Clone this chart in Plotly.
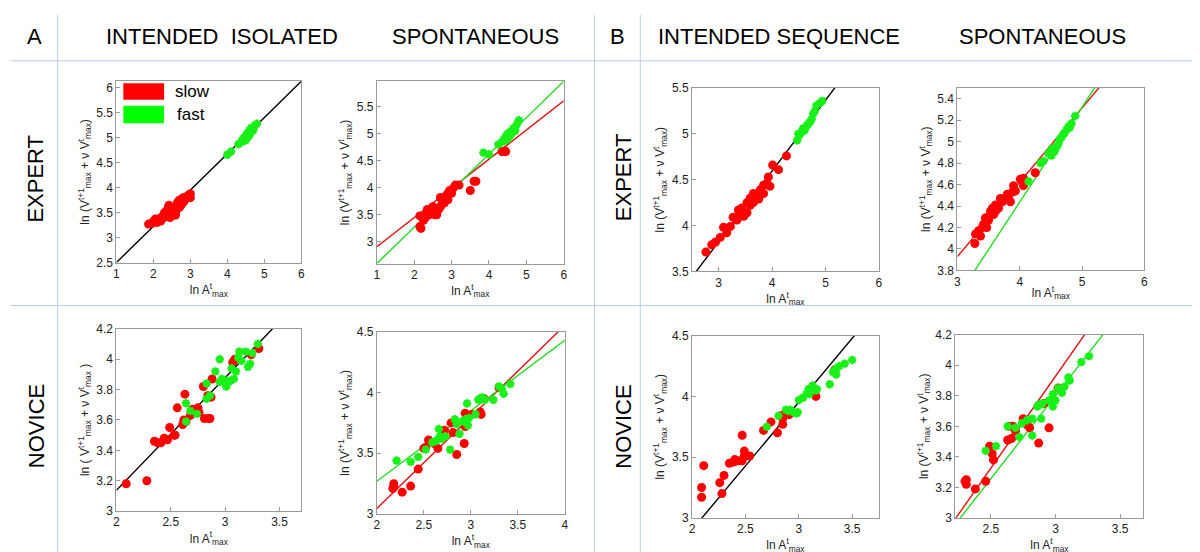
import plotly.graph_objects as go

# ---------------- DATA ----------------
# Panel A / EXPERT / INTENDED ISOLATED
a_ei_slow_x = [1.87, 1.95, 2.0, 2.05, 2.1, 2.15, 2.2, 2.2, 2.25, 2.3, 2.3, 2.35, 2.38, 2.4, 2.42, 2.45, 2.5, 2.5, 2.55, 2.55,
               2.6, 2.6, 2.65, 2.65, 2.7, 2.7, 2.75, 2.8, 2.8, 2.85, 2.9, 2.95, 3.0, 3.0, 2.45, 2.35, 2.6]
a_ei_slow_y = [3.27, 3.28, 3.32, 3.37, 3.3, 3.35, 3.4, 3.33, 3.38, 3.45, 3.5, 3.42, 3.55, 3.6, 3.65, 3.48, 3.5, 3.6, 3.55, 3.45,
               3.62, 3.5, 3.7, 3.58, 3.6, 3.75, 3.65, 3.7, 3.8, 3.75, 3.82, 3.85, 3.88, 3.8, 3.4, 3.45, 3.45]
a_ei_fast_x = [4.0, 4.1, 4.3, 4.4, 4.45, 4.5, 4.55, 4.6, 4.6, 4.65, 4.7, 4.75, 4.8, 4.5, 4.55, 4.4, 4.65, 4.7]
a_ei_fast_y = [4.66, 4.72, 4.87, 4.95, 5.0, 5.05, 5.1, 5.15, 5.05, 5.2, 5.2, 5.25, 5.28, 4.95, 5.0, 4.92, 5.12, 5.15]

# Panel A / EXPERT / SPONTANEOUS
a_es_slow_x = [2.15, 2.15, 2.18, 2.25, 2.3, 2.35, 2.35, 2.4, 2.45, 2.5, 2.5, 2.55, 2.6, 2.65, 2.7, 2.7, 2.75, 2.8, 2.85, 2.9,
               2.95, 3.0, 3.05, 3.1, 3.2, 2.8, 2.9, 2.6, 3.5, 3.6, 3.65, 4.35, 4.42, 4.45]
a_es_slow_y = [3.48, 3.28, 3.25, 3.4, 3.45, 3.55, 3.6, 3.5, 3.62, 3.55, 3.65, 3.5, 3.5, 3.6, 3.65, 3.82, 3.75, 3.8, 3.85, 3.9,
               3.95, 3.9, 4.0, 4.05, 4.05, 3.72, 3.78, 3.55, 3.95, 4.12, 4.12, 4.67, 4.68, 4.67]
a_es_fast_x = [3.85, 4.0, 4.25, 4.35, 4.4, 4.45, 4.5, 4.55, 4.6, 4.65, 4.7, 4.75, 4.8, 4.45, 4.55, 4.6, 4.5, 4.7]
a_es_fast_y = [4.65, 4.62, 4.8, 4.85, 4.9, 4.95, 5.0, 5.02, 5.05, 5.1, 5.12, 5.18, 5.25, 4.88, 4.95, 5.0, 4.92, 5.05]

# Panel B / EXPERT / INTENDED SEQUENCE
b_ei_slow_x = [2.76, 2.87, 2.94, 3.03, 3.09, 3.15, 3.27, 3.37, 3.34, 3.43, 3.47, 3.53, 3.59, 3.65, 3.72, 3.78, 3.84, 3.9,
               3.93, 4.01, 4.12, 4.27, 3.53, 3.65, 3.75, 3.96, 3.4, 3.84, 3.22, 3.59]
b_ei_slow_y = [3.71, 3.79, 3.82, 3.87, 3.98, 3.92, 4.09, 4.17, 4.06, 4.19, 4.1, 4.25, 4.3, 4.35, 4.32, 4.39, 4.44, 4.46,
               4.53, 4.66, 4.61, 4.76, 4.14, 4.25, 4.29, 4.43, 4.1, 4.35, 3.99, 4.22]
b_ei_fast_x = [4.47, 4.49, 4.55, 4.58, 4.65, 4.71, 4.74, 4.77, 4.8, 4.83, 4.9, 4.94, 4.61, 4.68, 4.52]
b_ei_fast_y = [4.93, 5.0, 5.02, 5.06, 5.09, 5.13, 5.16, 5.22, 5.25, 5.31, 5.34, 5.36, 5.04, 5.11, 4.99]

# Panel B / EXPERT / SPONTANEOUS
b_es_slow_x = [3.28, 3.29, 3.34, 3.37, 3.42, 3.45, 3.5, 3.53, 3.56, 3.58, 3.61, 3.66, 3.72, 3.77, 3.8, 3.85, 3.88, 3.9,
               4.01, 4.06, 4.06, 4.25, 3.61, 3.69, 3.47, 3.4, 3.82, 3.93]
b_es_slow_y = [4.05, 4.14, 4.17, 4.12, 4.23, 4.29, 4.27, 4.35, 4.38, 4.32, 4.41, 4.38, 4.44, 4.47, 4.51, 4.44, 4.53, 4.59,
               4.65, 4.66, 4.59, 4.71, 4.35, 4.47, 4.2, 4.2, 4.48, 4.54]
b_es_fast_x = [4.14, 4.33, 4.38, 4.46, 4.51, 4.56, 4.62, 4.64, 4.7, 4.75, 4.78, 4.83, 4.89, 4.56, 4.51, 4.67, 4.8, 4.72, 4.59]
b_es_fast_y = [4.63, 4.8, 4.82, 4.89, 4.93, 4.95, 4.98, 5.02, 5.07, 5.11, 5.14, 5.17, 5.24, 4.91, 4.87, 5.04, 5.13, 5.08, 4.95]

# Panel A / NOVICE / INTENDED ISOLATED
a_ni_slow_x = [2.09, 2.28, 2.35, 2.38, 2.41, 2.44, 2.47, 2.49, 2.53, 2.54, 2.56, 2.61, 2.62, 2.63, 2.64, 2.68, 2.7, 2.75,
               2.76, 2.8, 2.81, 2.84, 2.86, 2.88, 2.85, 3.07, 3.09, 3.24, 3.31, 2.87]
a_ni_slow_y = [3.18, 3.2, 3.46, 3.45, 3.45, 3.48, 3.47, 3.55, 3.5, 3.5, 3.68, 3.57, 3.6, 3.77, 3.59, 3.63, 3.67, 3.68,
               3.65, 3.82, 3.61, 3.76, 3.61, 3.87, 3.61, 3.98, 4.0, 4.03, 4.07, 3.75]
a_ni_fast_x = [2.64, 2.64, 2.68, 2.74, 2.83, 2.83, 2.86, 2.91, 2.95, 2.95, 2.97, 3.0, 3.01, 3.03, 3.05, 3.06, 3.08, 3.1,
               3.12, 3.13, 3.15, 3.19, 3.21, 3.23, 3.25, 3.3]
a_ni_fast_y = [3.71, 3.59, 3.66, 3.64, 3.84, 3.74, 3.76, 3.92, 4.0, 3.85, 3.87, 3.86, 3.82, 3.85, 3.86, 3.94, 3.87, 3.92,
               4.01, 4.05, 3.99, 4.05, 3.95, 3.97, 4.04, 4.1]

# Panel A / NOVICE / SPONTANEOUS
a_ns_slow_x = [2.18, 2.18, 2.17, 2.27, 2.36, 2.44, 2.5, 2.52, 2.55, 2.61, 2.65, 2.72, 2.79, 2.81, 2.85, 2.93, 2.94, 2.94,
               3.01, 3.1, 3.11, 3.14, 3.3]
a_ns_slow_y = [3.22, 3.25, 3.21, 3.18, 3.23, 3.37, 3.54, 3.55, 3.61, 3.58, 3.54, 3.69, 3.75, 3.67, 3.49, 3.58, 3.83, 3.72,
               3.82, 3.84, 3.82, 3.95, 4.04]
a_ns_fast_x = [2.21, 2.36, 2.44, 2.52, 2.59, 2.63, 2.66, 2.67, 2.69, 2.73, 2.78, 2.83, 2.85, 2.88, 2.92, 2.94, 2.96, 2.97,
               3.05, 3.08, 3.12, 3.15, 3.24, 3.3, 3.33, 3.35, 3.42, 3.1, 2.98]
a_ns_fast_y = [3.44, 3.43, 3.47, 3.53, 3.59, 3.6, 3.7, 3.64, 3.62, 3.64, 3.53, 3.78, 3.74, 3.66, 3.76, 3.78, 3.91, 3.73,
               3.82, 3.94, 3.96, 3.94, 3.94, 4.05, 4.03, 3.99, 4.07, 3.95, 3.79]

# Panel B / NOVICE / INTENDED SEQUENCE
b_ni_slow_x = [2.09, 2.09, 2.11, 2.26, 2.3, 2.28, 2.35, 2.39, 2.4, 2.43, 2.47, 2.47, 2.49, 2.49, 2.54, 2.67, 2.74, 2.8,
               2.85, 2.85, 2.88, 2.91, 3.16, 3.34, 2.83]
b_ni_slow_y = [3.25, 3.17, 3.43, 3.29, 3.35, 3.2, 3.45, 3.46, 3.48, 3.47, 3.47, 3.68, 3.55, 3.51, 3.51, 3.72, 3.79, 3.7,
               3.77, 3.82, 3.87, 3.85, 4.0, 4.22, 3.84]
b_ni_fast_x = [2.7, 2.81, 2.9, 2.92, 2.95, 2.98, 3.0, 3.04, 3.07, 3.09, 3.13, 3.16, 3.17, 3.29, 3.32, 3.35, 3.38, 3.43,
               3.5, 3.35, 3.34, 2.88, 2.99, 3.1]
b_ni_fast_y = [3.75, 3.84, 3.88, 3.89, 3.87, 3.86, 3.97, 3.99, 4.02, 4.06, 4.09, 4.05, 4.06, 4.1, 4.2, 4.23, 4.25, 4.27,
               4.3, 4.18, 4.21, 3.89, 3.87, 4.02]

# Panel B / NOVICE / SPONTANEOUS
b_ns_slow_x = [2.3, 2.31, 2.31, 2.38, 2.46, 2.49, 2.51, 2.52, 2.63, 2.66, 2.67, 2.69, 2.75, 2.78, 2.8, 2.87, 2.95, 3.02,
               2.91, 2.64]
b_ns_slow_y = [3.24, 3.22, 3.25, 3.19, 3.24, 3.47, 3.42, 3.38, 3.51, 3.52, 3.6, 3.57, 3.65, 3.61, 3.59, 3.49, 3.59, 3.85,
               3.75, 3.6]
b_ns_fast_x = [2.46, 2.54, 2.63, 2.69, 2.72, 2.74, 2.78, 2.82, 2.82, 2.86, 2.88, 2.89, 2.9, 2.95, 2.98, 2.98, 3.02, 3.05,
               3.07, 3.1, 3.11, 3.2, 3.26, 3.0, 2.87]
b_ns_fast_y = [3.44, 3.47, 3.6, 3.59, 3.53, 3.62, 3.64, 3.54, 3.65, 3.73, 3.74, 3.65, 3.75, 3.77, 3.81, 3.73, 3.85, 3.82,
               3.86, 3.92, 3.9, 4.02, 4.06, 3.77, 3.74]

# Fitted lines: (intercept, slope)
a_ei_fit_all = (1.774, 0.726)
a_es_fit_slow = (2.37, 0.54)
a_es_fit_fast = (1.926, 0.674)
b_ei_fit_all = (1.508, 0.772)
b_es_fit_slow = (1.85, 0.693)
b_es_fit_fast = (0.897, 0.885)
a_ni_fit_all = (1.655, 0.741)
a_ns_fit_slow = (1.537, 0.754)
a_ns_fit_fast = (2.11, 0.58)
b_ni_fit_all = (0.8, 1.051)
b_ns_fit_slow = (0.313, 1.205)
b_ns_fit_fast = (0.537, 1.088)

# Axis ranges and ticks
a_ei_xrange, a_ei_yrange = [1, 6], [2.5, 6.13]
a_es_xrange, a_es_yrange = [1, 6], [2.6, 5.97]
b_ei_xrange, b_ei_yrange = [2.5, 6], [3.5, 5.5]
b_es_xrange, b_es_yrange = [3, 6], [3.8, 5.5]
a_ni_xrange, a_ni_yrange = [2, 3.7], [3, 4.2]
a_ns_xrange, a_ns_yrange = [2, 4], [3, 4.5]
b_ni_xrange, b_ni_yrange = [2, 3.75], [3, 4.5]
b_ns_xrange, b_ns_yrange = [2.226, 3.68], [3, 4.2]

a_ei_xticks, a_ei_yticks = [1, 2, 3, 4, 5, 6], [2.5, 3, 3.5, 4, 4.5, 5, 5.5, 6]
a_es_xticks, a_es_yticks = [1, 2, 3, 4, 5, 6], [3, 3.5, 4, 4.5, 5, 5.5]
b_ei_xticks, b_ei_yticks = [3, 4, 5, 6], [3.5, 4, 4.5, 5, 5.5]
b_es_xticks, b_es_yticks = [3, 4, 5, 6], [3.8, 4, 4.2, 4.4, 4.6, 4.8, 5, 5.2, 5.4]
a_ni_xticks, a_ni_yticks = [2, 2.5, 3, 3.5], [3, 3.2, 3.4, 3.6, 3.8, 4, 4.2]
a_ns_xticks, a_ns_yticks = [2, 2.5, 3, 3.5, 4], [3, 3.5, 4, 4.5]
b_ni_xticks, b_ni_yticks = [2, 2.5, 3, 3.5], [3, 3.5, 4, 4.5]
b_ns_xticks, b_ns_yticks = [2.5, 3, 3.5], [3, 3.2, 3.4, 3.6, 3.8, 4, 4.2]

# ---------------- STYLE / LAYOUT ----------------
W, H = 1200, 552
RED = "#ff0000"
GREEN = "#19f019"
RED_LINE = "#e01010"
GREEN_LINE = "#22dd22"

YLAB = "ln (V<sup>t+1</sup><sub>max</sub> + ν V<sup>t</sup><sub>max</sub>)"
YLAB_SP = "ln ( V<sup>t+1</sup><sub>max</sub> + ν V<sup>t</sup><sub>max</sub> )"
XLAB = "ln A<sup>t</sup><sub>max</sub>"

# pixel boxes (left, right, top, bottom)
panels = [
    dict(box=(106, 292, 68, 254), xr=a_ei_xrange, yr=a_ei_yrange, xt=a_ei_xticks, yt=a_ei_yticks,
         slow=(a_ei_slow_x, a_ei_slow_y), fast=(a_ei_fast_x, a_ei_fast_y),
         fits=[(a_ei_fit_all, "black")], ylab=YLAB),
    dict(box=(368, 556, 68, 255), xr=a_es_xrange, yr=a_es_yrange, xt=a_es_xticks, yt=a_es_yticks,
         slow=(a_es_slow_x, a_es_slow_y), fast=(a_es_fast_x, a_es_fast_y),
         fits=[(a_es_fit_slow, RED_LINE), (a_es_fit_fast, GREEN_LINE)], ylab=YLAB),
    dict(box=(685, 873, 75, 263), xr=b_ei_xrange, yr=b_ei_yrange, xt=b_ei_xticks, yt=b_ei_yticks,
         slow=(b_ei_slow_x, b_ei_slow_y), fast=(b_ei_fast_x, b_ei_fast_y),
         fits=[(b_ei_fit_all, "black")], ylab=YLAB),
    dict(box=(952, 1140, 75, 262), xr=b_es_xrange, yr=b_es_yrange, xt=b_es_xticks, yt=b_es_yticks,
         slow=(b_es_slow_x, b_es_slow_y), fast=(b_es_fast_x, b_es_fast_y),
         fits=[(b_es_fit_slow, RED_LINE), (b_es_fit_fast, GREEN_LINE)], ylab=YLAB),
    dict(box=(106, 292, 322, 509), xr=a_ni_xrange, yr=a_ni_yrange, xt=a_ni_xticks, yt=a_ni_yticks,
         slow=(a_ni_slow_x, a_ni_slow_y), fast=(a_ni_fast_x, a_ni_fast_y),
         fits=[(a_ni_fit_all, "black")], ylab=YLAB_SP),
    dict(box=(368, 557, 325, 512), xr=a_ns_xrange, yr=a_ns_yrange, xt=a_ns_xticks, yt=a_ns_yticks,
         slow=(a_ns_slow_x, a_ns_slow_y), fast=(a_ns_fast_x, a_ns_fast_y),
         fits=[(a_ns_fit_slow, RED_LINE), (a_ns_fit_fast, GREEN_LINE)], ylab=YLAB),
    dict(box=(685, 873, 329, 516), xr=b_ni_xrange, yr=b_ni_yrange, xt=b_ni_xticks, yt=b_ni_yticks,
         slow=(b_ni_slow_x, b_ni_slow_y), fast=(b_ni_fast_x, b_ni_fast_y),
         fits=[(b_ni_fit_all, "black")], ylab=YLAB),
    dict(box=(950, 1139, 328, 516), xr=b_ns_xrange, yr=b_ns_yrange, xt=b_ns_xticks, yt=b_ns_yticks,
         slow=(b_ns_slow_x, b_ns_slow_y), fast=(b_ns_fast_x, b_ns_fast_y),
         fits=[(b_ns_fit_slow, RED_LINE), (b_ns_fit_fast, GREEN_LINE)], ylab=YLAB),
]


def fmt(v):
    return "%g" % v


fig = go.Figure()
layout = dict(
    width=W, height=H, margin=dict(l=0, r=0, t=0, b=0),
    paper_bgcolor="white", plot_bgcolor="white", showlegend=False,
    font=dict(family="Arial, Liberation Sans, sans-serif", size=12, color="#222"),
)

for i, p in enumerate(panels, start=1):
    l, r, t, b = p["box"]
    xa = "x" if i == 1 else "x%d" % i
    ya = "y" if i == 1 else "y%d" % i
    axis_common = dict(showline=True, mirror=True, linecolor="#9a9a9a", linewidth=1,
                       ticks="inside", ticklen=4, tickcolor="#9a9a9a",
                       showgrid=False, zeroline=False,
                       tickfont=dict(size=12, color="#222"))
    layout["xaxis" if i == 1 else "xaxis%d" % i] = dict(
        axis_common, domain=[l / W, r / W], anchor=ya, range=p["xr"],
        tickvals=p["xt"], ticktext=[fmt(v) for v in p["xt"]],
        title=dict(text=XLAB, font=dict(size=12), standoff=0))
    layout["yaxis" if i == 1 else "yaxis%d" % i] = dict(
        axis_common, domain=[1 - b / H, 1 - t / H], anchor=xa, range=p["yr"],
        tickvals=p["yt"], ticktext=[fmt(v) for v in p["yt"]],
        title=dict(text=p["ylab"], font=dict(size=12), standoff=4))

    for (a0, s0), col in p["fits"]:
        xs = list(p["xr"])
        fig.add_trace(go.Scatter(x=xs, y=[a0 + s0 * v for v in xs], mode="lines",
                                 line=dict(color=col, width=1.4), xaxis=xa, yaxis=ya,
                                 hoverinfo="skip"))
    sx, sy = p["slow"]
    fig.add_trace(go.Scatter(x=sx, y=sy, mode="markers", xaxis=xa, yaxis=ya, name="slow",
                             marker=dict(color=RED, size=9, symbol="circle", line=dict(width=0))))
    fx, fy = p["fast"]
    fig.add_trace(go.Scatter(x=fx, y=fy, mode="markers", xaxis=xa, yaxis=ya, name="fast",
                             marker=dict(color=GREEN, size=7, symbol="asterisk-open",
                                         line=dict(color=GREEN, width=2.4))))
    fig.add_trace(go.Scatter(x=fx, y=fy, mode="markers", xaxis=xa, yaxis=ya, showlegend=False,
                             hoverinfo="skip",
                             marker=dict(color=GREEN, size=4, symbol="circle", line=dict(width=0))))

fig.update_layout(**layout)

# page dividers
div_col = "#b9cde5"
shapes = []
for yy in (47, 298):
    shapes.append(dict(type="line", xref="paper", yref="paper", x0=0, x1=1,
                       y0=1 - yy / H, y1=1 - yy / H, line=dict(color=div_col, width=1)))
for xx in (47, 587, 633):
    shapes.append(dict(type="line", xref="paper", yref="paper", x0=xx / W, x1=xx / W,
                       y0=0, y1=1, line=dict(color=div_col, width=1)))
# legend swatches in first panel
shapes.append(dict(type="rect", xref="paper", yref="paper", x0=113 / W, x1=154 / W,
                   y0=1 - 87 / H, y1=1 - 70 / H, fillcolor=RED, line=dict(width=0)))
shapes.append(dict(type="rect", xref="paper", yref="paper", x0=113 / W, x1=154 / W,
                   y0=1 - 111 / H, y1=1 - 93 / H, fillcolor="#00ff00", line=dict(width=0)))

annotations = []


def ann(text, x, y, size, angle=0, family="Arial, Liberation Sans, sans-serif", xanchor="center"):
    annotations.append(dict(text=text, x=x / W, y=1 - y / H, xref="paper", yref="paper",
                            showarrow=False, textangle=angle, xanchor=xanchor, yanchor="middle",
                            font=dict(size=size, family=family, color="black")))


ann("A", 24, 22, 22)
ann("B", 610, 22, 22)
ann("INTENDED  ISOLATED", 212, 22, 22)
ann("SPONTANEOUS", 467, 22, 22)
ann("INTENDED SEQUENCE", 773, 22, 22)
ann("SPONTANEOUS", 1038, 22, 22)
ann("EXPERT", 25, 168, 22, angle=-90)
ann("NOVICE", 25, 422, 22, angle=-90)
ann("EXPERT", 616, 166, 22, angle=-90)
ann("NOVICE", 616, 422, 22, angle=-90)
ann("slow", 163, 79, 17, xanchor="left")
ann("fast", 165, 102, 17, xanchor="left")

fig.update_layout(shapes=shapes, annotations=annotations)
fig.write_html("out.html")
